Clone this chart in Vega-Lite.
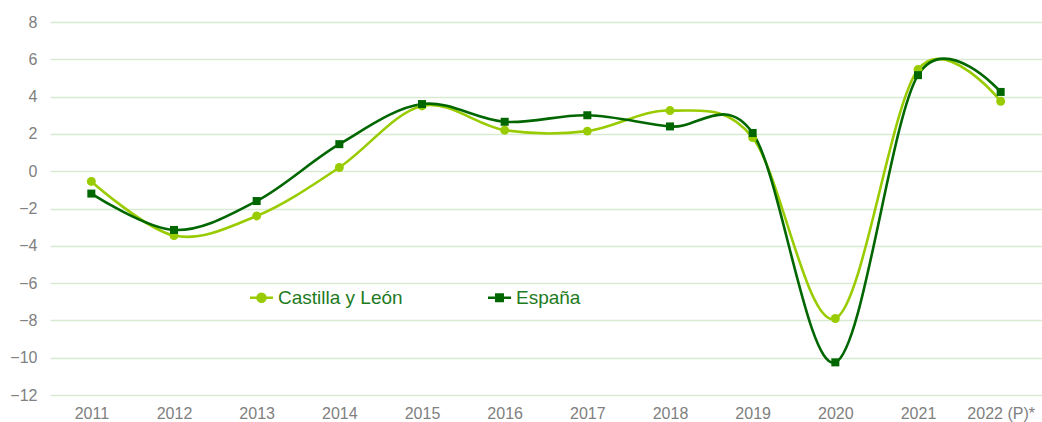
{
  "$schema": "https://vega.github.io/schema/vega-lite/v6.json",
  "autosize": "none",
  "width": 992,
  "height": 373,
  "padding": {"left": 50, "top": 22, "right": 0, "bottom": 27},
  "background": "white",
  "config": {
    "view": {"stroke": null},
    "font": "Liberation Sans"
  },
  "data": {
    "values": [
      {"year": "2011", "region": "Castilla y León", "value": -0.55},
      {"year": "2012", "region": "Castilla y León", "value": -3.45},
      {"year": "2013", "region": "Castilla y León", "value": -2.4},
      {"year": "2014", "region": "Castilla y León", "value": 0.2},
      {"year": "2015", "region": "Castilla y León", "value": 3.5},
      {"year": "2016", "region": "Castilla y León", "value": 2.2},
      {"year": "2017", "region": "Castilla y León", "value": 2.15},
      {"year": "2018", "region": "Castilla y León", "value": 3.25},
      {"year": "2019", "region": "Castilla y León", "value": 1.8},
      {"year": "2020", "region": "Castilla y León", "value": -7.9},
      {"year": "2021", "region": "Castilla y León", "value": 5.45},
      {"year": "2022 (P)*", "region": "Castilla y León", "value": 3.75},
      {"year": "2011", "region": "España", "value": -1.2},
      {"year": "2012", "region": "España", "value": -3.15},
      {"year": "2013", "region": "España", "value": -1.6},
      {"year": "2014", "region": "España", "value": 1.45},
      {"year": "2015", "region": "España", "value": 3.6},
      {"year": "2016", "region": "España", "value": 2.65},
      {"year": "2017", "region": "España", "value": 3.0},
      {"year": "2018", "region": "España", "value": 2.4},
      {"year": "2019", "region": "España", "value": 2.05},
      {"year": "2020", "region": "España", "value": -10.25},
      {"year": "2021", "region": "España", "value": 5.15},
      {"year": "2022 (P)*", "region": "España", "value": 4.25}
    ]
  },
  "encoding": {
    "x": {
      "field": "year", "type": "ordinal",
      "scale": {"type": "point", "padding": 0.5},
      "axis": {
        "title": null, "labelAngle": 0, "domain": false, "ticks": false,
        "grid": false, "labelColor": "#808080", "labelFontSize": 16,
        "labelPadding": 10
      }
    },
    "y": {
      "field": "value", "type": "quantitative",
      "scale": {"domain": [-12, 8], "nice": false, "zero": false},
      "axis": {
        "title": null, "values": [-12, -10, -8, -6, -4, -2, 0, 2, 4, 6, 8],
        "domain": false, "ticks": false, "gridColor": "#d9ead3", "gridWidth": 1.3,
        "labelColor": "#808080", "labelFontSize": 16, "labelPadding": 13
      }
    },
    "color": {
      "field": "region", "type": "nominal",
      "scale": {"domain": ["Castilla y León", "España"], "range": ["#99cc00", "#006600"]},
      "legend": {
        "title": null, "orient": "none", "legendX": 202, "legendY": 266,
        "direction": "horizontal", "columnPadding": 80,
        "labelFontSize": 19, "labelColor": "#1e7b1e", "labelOffset": 7,
        "symbolSize": 235, "symbolStrokeWidth": 2.5,
        "encode": {
          "symbols": {
            "update": {
              "shape": {"signal": "datum.value == 'España' ? 'M-1.5,0H1.5M-0.42,-0.42H0.42V0.42H-0.42Z' : 'M-1.5,0H1.5M0.52,0A0.52,0.52,0,1,1,-0.52,0A0.52,0.52,0,1,1,0.52,0Z'"},
              "size": {"value": 235},
              "fill": {"signal": "datum.value == 'España' ? '#006600' : '#99cc00'"},
              "stroke": {"signal": "datum.value == 'España' ? '#006600' : '#99cc00'"},
              "strokeWidth": {"value": 2.5},
              "opacity": {"value": 1},
              "fillOpacity": {"value": 1}
            }
          }
        }
      }
    }
  },
  "layer": [
    {
      "mark": {"type": "line", "interpolate": "cardinal", "strokeWidth": 2.6}
    },
    {
      "transform": [{"filter": "datum.region == 'Castilla y León'"}],
      "mark": {"type": "point", "filled": true, "opacity": 1, "shape": "circle", "size": 80}
    },
    {
      "transform": [{"filter": "datum.region == 'España'"}],
      "mark": {"type": "point", "filled": true, "opacity": 1, "shape": "square", "size": 64}
    }
  ]
}
